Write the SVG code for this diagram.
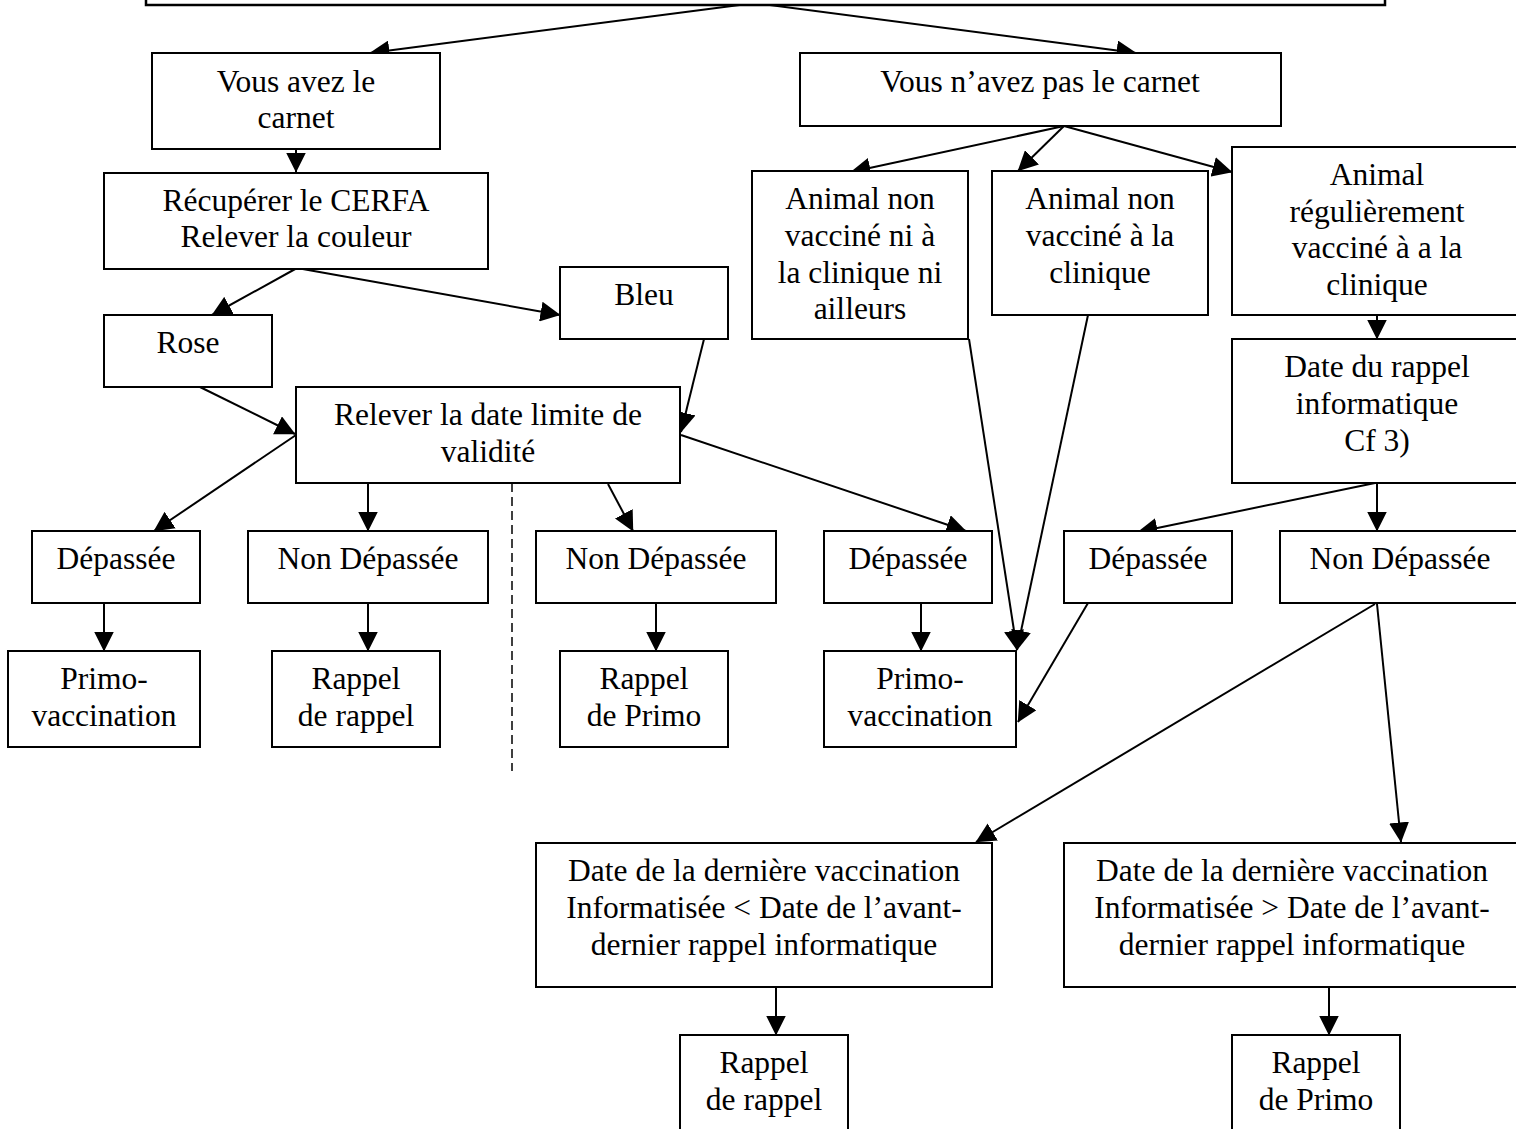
<svg xmlns="http://www.w3.org/2000/svg" width="1516" height="1129" viewBox="0 0 1516 1129">
<style>
rect{fill:#fff;stroke:#000;stroke-width:2}
text{font-family:"Liberation Serif","Times New Roman",serif;font-size:31.5px;fill:#000;text-anchor:middle}
#connectors line{stroke:#000;stroke-width:2}
#connectors .arr{marker-end:url(#ah)}
</style>
<defs>
<marker id="ah" markerUnits="userSpaceOnUse" markerWidth="20" markerHeight="20" viewBox="0 0 20 20" refX="19.5" refY="10" orient="auto">
<path d="M0,0 L20,10 L0,20 z" fill="#000"/>
</marker>
</defs>
<rect width="1516" height="1129" style="fill:#fff;stroke:none"/>
<g id="connectors">
<line class="arr" x1="755" y1="3" x2="370" y2="53"/>
<line class="arr" x1="755" y1="3" x2="1136" y2="53"/>
<line class="arr" x1="296" y1="149" x2="296" y2="172"/>
<line class="arr" x1="297" y1="268" x2="212" y2="315"/>
<line class="arr" x1="297" y1="268" x2="560" y2="315"/>
<line class="arr" x1="200" y1="387" x2="295" y2="434"/>
<line class="arr" x1="704" y1="339" x2="681" y2="432"/>
<line class="arr" x1="296" y1="435" x2="154" y2="531"/>
<line class="arr" x1="368" y1="483" x2="368" y2="531"/>
<line class="arr" x1="608" y1="484" x2="633" y2="531"/>
<line class="arr" x1="681" y1="435" x2="966" y2="531"/>
<line class="arr" x1="104" y1="603" x2="104" y2="651"/>
<line class="arr" x1="368" y1="603" x2="368" y2="651"/>
<line class="arr" x1="656" y1="603" x2="656" y2="651"/>
<line class="arr" x1="921" y1="603" x2="921" y2="651"/>
<line class="arr" x1="969" y1="339" x2="1017" y2="650"/>
<line class="arr" x1="1088" y1="315" x2="1017" y2="650"/>
<line class="arr" x1="1088" y1="603" x2="1018" y2="722"/>
<line class="arr" x1="1064" y1="126" x2="851" y2="172"/>
<line class="arr" x1="1064" y1="126" x2="1018" y2="171"/>
<line class="arr" x1="1064" y1="126" x2="1232" y2="172"/>
<line class="arr" x1="1377" y1="315" x2="1377" y2="339"/>
<line class="arr" x1="1375" y1="483" x2="1138" y2="532"/>
<line class="arr" x1="1377" y1="483" x2="1377" y2="531"/>
<line class="arr" x1="1375" y1="604" x2="976" y2="842"/>
<line class="arr" x1="1377" y1="604" x2="1401" y2="842"/>
<line class="arr" x1="776" y1="987" x2="776" y2="1035"/>
<line class="arr" x1="1329" y1="987" x2="1329" y2="1035"/>
<line x1="512" y1="483" x2="512" y2="771" stroke-dasharray="9,5" style="stroke-width:1.5"/>
</g>
<g id="top"><rect x="146" y="-20" width="1239" height="25" style="stroke-width:2.5"/></g>
<g id="avez"><rect x="152" y="53" width="288" height="96"/><text x="296" y="91.7">Vous avez le</text><text x="296" y="128.3">carnet</text></g>
<g id="navez"><rect x="800" y="53" width="481" height="73"/><text x="1040" y="91.7">Vous n’avez pas le carnet</text></g>
<g id="cerfa"><rect x="104" y="173" width="384" height="96"/><text x="296" y="210.7">Récupérer le CERFA</text><text x="296" y="247.3">Relever la couleur</text></g>
<g id="rose"><rect x="104" y="315" width="168" height="72"/><text x="188" y="353.3">Rose</text></g>
<g id="bleu"><rect x="560" y="267" width="168" height="72"/><text x="644" y="305.3">Bleu</text></g>
<g id="datelimite"><rect x="296" y="387" width="384" height="96"/><text x="488" y="425">Relever la date limite de</text><text x="488" y="461.7">validité</text></g>
<g id="dep1"><rect x="32" y="531" width="168" height="72"/><text x="116" y="569.3">Dépassée</text></g>
<g id="nondep1"><rect x="248" y="531" width="240" height="72"/><text x="368" y="569.3">Non Dépassée</text></g>
<g id="nondep2"><rect x="536" y="531" width="240" height="72"/><text x="656" y="569.3">Non Dépassée</text></g>
<g id="dep2"><rect x="824" y="531" width="168" height="72"/><text x="908" y="569.3">Dépassée</text></g>
<g id="dep3"><rect x="1064" y="531" width="168" height="72"/><text x="1148" y="569.3">Dépassée</text></g>
<g id="nondep3"><rect x="1280" y="531" width="240" height="72"/><text x="1400" y="569.3">Non Dépassée</text></g>
<g id="primo1"><rect x="8" y="651" width="192" height="96"/><text x="104" y="689.3">Primo-</text><text x="104" y="726">vaccination</text></g>
<g id="rappelrappel1"><rect x="272" y="651" width="168" height="96"/><text x="356" y="689.3">Rappel</text><text x="356" y="726">de rappel</text></g>
<g id="rappelprimo1"><rect x="560" y="651" width="168" height="96"/><text x="644" y="689.3">Rappel</text><text x="644" y="726">de Primo</text></g>
<g id="primo2"><rect x="824" y="651" width="192" height="96"/><text x="920" y="689.3">Primo-</text><text x="920" y="726">vaccination</text></g>
<g id="nonvaccni"><rect x="752" y="171" width="216" height="168"/><text x="860" y="209.3">Animal non</text><text x="860" y="246">vacciné ni à</text><text x="860" y="282.7">la clinique ni</text><text x="860" y="319.3">ailleurs</text></g>
<g id="nonvacc"><rect x="992" y="171" width="216" height="144"/><text x="1100" y="209.3">Animal non</text><text x="1100" y="246">vacciné à la</text><text x="1100" y="282.7">clinique</text></g>
<g id="regulier"><rect x="1232" y="147" width="290" height="168"/><text x="1377" y="185">Animal</text><text x="1377" y="221.7">régulièrement</text><text x="1377" y="258.3">vacciné à a la</text><text x="1377" y="295">clinique</text></g>
<g id="daterappel"><rect x="1232" y="339" width="290" height="144"/><text x="1377" y="377.3">Date du rappel</text><text x="1377" y="414">informatique</text><text x="1377" y="450.7">Cf 3)</text></g>
<g id="inf"><rect x="536" y="843" width="456" height="144"/><text x="764" y="881.3">Date de la dernière vaccination</text><text x="764" y="918">Informatisée &lt; Date de l’avant-</text><text x="764" y="954.7">dernier rappel informatique</text></g>
<g id="sup"><rect x="1064" y="843" width="456" height="144"/><text x="1292" y="881.3">Date de la dernière vaccination</text><text x="1292" y="918">Informatisée &gt; Date de l’avant-</text><text x="1292" y="954.7">dernier rappel informatique</text></g>
<g id="rappelrappel2"><rect x="680" y="1035" width="168" height="110"/><text x="764" y="1073.3">Rappel</text><text x="764" y="1110">de rappel</text></g>
<g id="rappelprimo2"><rect x="1232" y="1035" width="168" height="110"/><text x="1316" y="1073.3">Rappel</text><text x="1316" y="1110">de Primo</text></g>
</svg>
